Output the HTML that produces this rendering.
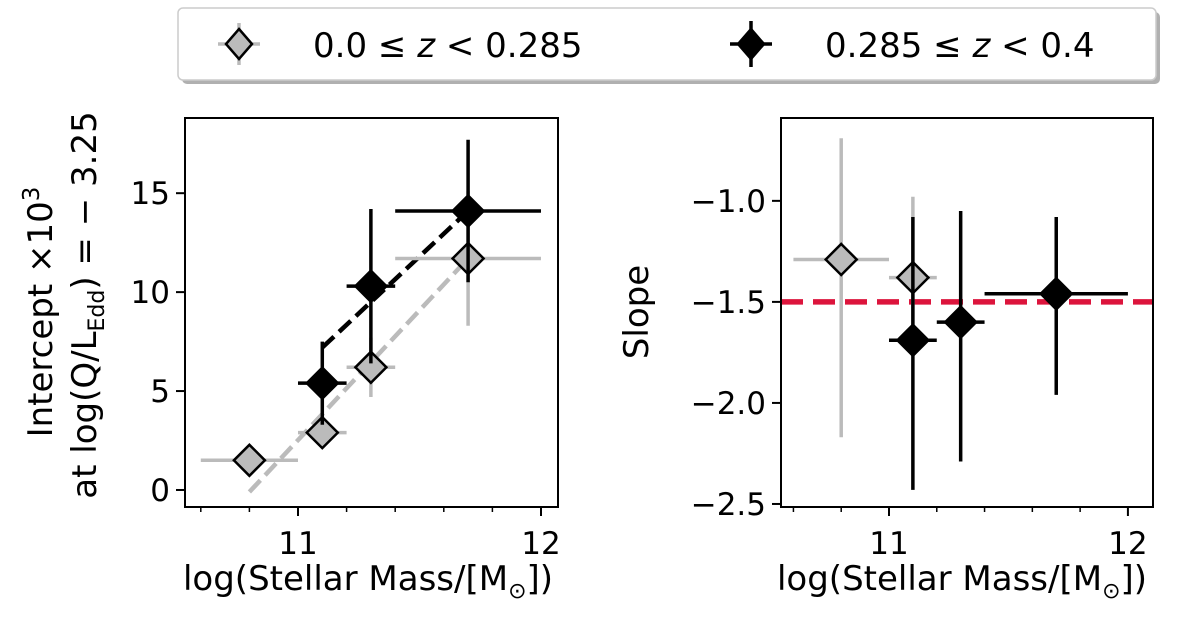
<!DOCTYPE html>
<html><head><meta charset="utf-8">
<style>
html,body{margin:0;padding:0;background:#fff;}
svg{display:block;font-family:"DejaVu Sans","Liberation Sans",sans-serif;}
</style></head>
<body>
<svg id="fig" width="1200" height="627" viewBox="0 0 1200 627" xmlns="http://www.w3.org/2000/svg">
<g>
  <rect x="182" y="12" width="978" height="72" rx="5" fill="#b0b0b0"/>
  <rect x="178" y="8" width="978" height="72" rx="5" fill="#fff" stroke="#ccc" stroke-width="1.5"/>
  <g>
    <line x1="218" y1="44" x2="260" y2="44" stroke="#bbb" stroke-width="3.5"/>
    <line x1="239" y1="23" x2="239" y2="65" stroke="#bbb" stroke-width="3.5"/>
    <path d="M239,29 L252,44 L239,59 L226,44 Z" fill="#bbb" stroke="#000" stroke-width="2.5"/>
    <text x="313" y="57" font-size="34">0.0 ≤ <tspan font-style="italic">z</tspan> &lt; 0.285</text>
  </g>
  <g>
    <line x1="730" y1="44" x2="772" y2="44" stroke="#000" stroke-width="3.5"/>
    <line x1="751" y1="21" x2="751" y2="67" stroke="#000" stroke-width="3.5"/>
    <path d="M751,29 L764,44 L751,59 L738,44 Z" fill="#000" stroke="#000" stroke-width="2.5"/>
    <text x="825" y="57" font-size="34">0.285 ≤ <tspan font-style="italic">z</tspan> &lt; 0.4</text>
  </g>
</g>
<g id="left"></g>
<g id="right"></g>
</svg>
<script>
// ---- data ----
const massLow = [10.8, 11.1, 11.3, 11.7];
const xerrLow = [0.2, 0.1, 0.1, 0.3];
const interceptLow = [1.5, 2.9, 6.2, 11.7];
const interceptErrUpLow = [0.3, 0.6, 1.5, 3.4];
const interceptErrDnLow = [0.3, 0.6, 1.5, 3.4];
const massHigh = [11.1, 11.3, 11.7];
const xerrHigh = [0.1, 0.1, 0.3];
const interceptHigh = [5.4, 10.3, 14.1];
const interceptErrUpHigh = [2.1, 3.9, 3.6];
const interceptErrDnHigh = [2.1, 3.9, 3.6];
const fitLowX = [10.8, 11.7];
const fitLowY = [-0.1, 11.7];
const fitHighX = [11.1, 11.7];
const fitHighY = [7.2, 14.1];

const slopeMassLow = [10.8, 11.1];
const slopeXerrLow = [0.2, 0.1];
const slopeLow = [-1.29, -1.38];
const slopeErrUpLow = [0.60, 0.40];
const slopeErrDnLow = [0.88, 0.30];
const slopeMassHigh = [11.1, 11.3, 11.7];
const slopeXerrHigh = [0.1, 0.1, 0.3];
const slopeHigh = [-1.69, -1.60, -1.46];
const slopeErrUpHigh = [0.61, 0.55, 0.38];
const slopeErrDnHigh = [0.74, 0.69, 0.50];
const slopeRef = -1.5;

const xTicks = [11, 12];
const xMinor = [10.6, 10.8, 11.2, 11.4, 11.6, 11.8];
const leftYTicks = [0, 5, 10, 15];
const rightYTicks = [-1.0, -1.5, -2.0, -2.5];

const NS = "http://www.w3.org/2000/svg";
function mk(parent, tag, attrs) {
  const e = document.createElementNS(NS, tag);
  for (const k in attrs) e.setAttribute(k, attrs[k]);
  parent.appendChild(e);
  return e;
}
function lin(d0, d1, r0, r1) { return v => r0 + (v - d0) * (r1 - r0) / (d1 - d0); }

function panel(g, box, xlim, ylim, yticks, yfmt) {
  const sx = lin(xlim[0], xlim[1], box.x0, box.x1);
  const sy = lin(ylim[0], ylim[1], box.y1, box.y0);
  xTicks.forEach(t => {
    const l = mk(g, "line", {x1: sx(t), x2: sx(t), y1: box.y1, y2: box.y1 + 9, stroke: "#000", "stroke-width": 2});
    
    
    const tx = mk(g, "text", {x: sx(t), y: box.y1 + 47, "font-size": 31, "text-anchor": "middle"});
    tx.textContent = t;
    
    
  });
  xMinor.forEach(t => {
    const l = mk(g, "line", {x1: sx(t), x2: sx(t), y1: box.y1, y2: box.y1 + 5, stroke: "#000", "stroke-width": 1.5});
    
    
  });
  yticks.forEach(t => {
    const l = mk(g, "line", {x1: box.x0 - 9, x2: box.x0, y1: sy(t), y2: sy(t), stroke: "#000", "stroke-width": 2});
    
    
    const tx = mk(g, "text", {x: box.x0 - 15, y: sy(t) + 11, "font-size": 31, "text-anchor": "end"});
    tx.textContent = yfmt(t);
    
    
  });
  return {sx, sy};
}
function errPoints(g, sx, sy, xs, xe, ys, yeUp, yeDn, col, fill, name) {
  xs.forEach((x, i) => {
    const h = mk(g, "line", {x1: sx(x - xe[i]), x2: sx(x + xe[i]), y1: sy(ys[i]), y2: sy(ys[i]), stroke: col, "stroke-width": 3.5});
    
    
    const v = mk(g, "line", {x1: sx(x), x2: sx(x), y1: sy(ys[i] - yeDn[i]), y2: sy(ys[i] + yeUp[i]), stroke: col, "stroke-width": 3.5});
    
    
  });
  xs.forEach((x, i) => {
    const cx = sx(x), cy = sy(ys[i]);
    const p = mk(g, "path", {d: `M${cx},${cy-15.5} L${cx+15.5},${cy} L${cx},${cy+15.5} L${cx-15.5},${cy} Z`, fill: fill, stroke: "#000", "stroke-width": 2.5});
    
    
  });
}
function frame(g, box) {
  const r = mk(g, "rect", {x: box.x0, y: box.y0, width: box.x1 - box.x0, height: box.y1 - box.y0, fill: "none", stroke: "#000", "stroke-width": 2});
  
  
}

// Left panel
(function(){
  const g = document.getElementById("left");
  const box = {x0: 185, x1: 558, y0: 118, y1: 507};
  const {sx, sy} = panel(g, box, [10.535, 12.07], [-0.86, 18.8], leftYTicks, t => t);
  const f1 = mk(g, "line", {x1: sx(fitLowX[0]), y1: sy(fitLowY[0]), x2: sx(fitLowX[1]), y2: sy(fitLowY[1]), stroke: "#bbb", "stroke-width": 4.5, "stroke-dasharray": "16,7"});
  
  
  const f2 = mk(g, "line", {x1: sx(fitHighX[0]), y1: sy(fitHighY[0]), x2: sx(fitHighX[1]), y2: sy(fitHighY[1]), stroke: "#000", "stroke-width": 4.5, "stroke-dasharray": "16,7"});
  
  
  errPoints(g, sx, sy, massLow, xerrLow, interceptLow, interceptErrUpLow, interceptErrDnLow, "#bbb", "#bbb", "intercept-low-z");
  errPoints(g, sx, sy, massHigh, xerrHigh, interceptHigh, interceptErrUpHigh, interceptErrDnHigh, "#000", "#000", "intercept-high-z");
  frame(g, box);
  const xl = mk(g, "text", {x: 368, y: 590, "font-size": 34, "text-anchor": "middle"});
  xl.innerHTML = 'log(Stellar Mass/[M<tspan font-size="22" dy="8">⊙</tspan><tspan dy="-8">])</tspan>';
  
  
  const yl = mk(g, "text", {transform: "translate(52,312) rotate(-90)", "font-size": 34, "text-anchor": "middle"});
  yl.innerHTML = 'Intercept ×10<tspan font-size="23" dy="-13">3</tspan>';
  
  
  const yl2 = mk(g, "text", {transform: "translate(96,305) rotate(-90)", "font-size": 34, "text-anchor": "middle"});
  yl2.innerHTML = 'at log(Q/L<tspan font-size="22" dy="8">Edd</tspan><tspan dy="-8">) = − 3.25</tspan>';
  
  
})();

// Right panel
(function(){
  const g = document.getElementById("right");
  const box = {x0: 781, x1: 1153, y0: 118, y1: 507};
  const {sx, sy} = panel(g, box, [10.548, 12.105], [-2.515, -0.59], rightYTicks, t => "−" + Math.abs(t).toFixed(1));
  const rl = mk(g, "line", {x1: box.x0, x2: box.x1, y1: sy(slopeRef), y2: sy(slopeRef), stroke: "#dc143c", "stroke-width": 5.5, "stroke-dasharray": "22,10"});
  
  
  errPoints(g, sx, sy, slopeMassLow, slopeXerrLow, slopeLow, slopeErrUpLow, slopeErrDnLow, "#bbb", "#bbb", "slope-low-z");
  errPoints(g, sx, sy, slopeMassHigh, slopeXerrHigh, slopeHigh, slopeErrUpHigh, slopeErrDnHigh, "#000", "#000", "slope-high-z");
  frame(g, box);
  const xl = mk(g, "text", {x: 962, y: 590, "font-size": 34, "text-anchor": "middle"});
  xl.innerHTML = 'log(Stellar Mass/[M<tspan font-size="22" dy="8">⊙</tspan><tspan dy="-8">])</tspan>';
  
  
  const yl = mk(g, "text", {transform: "translate(648,312) rotate(-90)", "font-size": 34, "text-anchor": "middle"});
  yl.textContent = 'Slope';
  
  
})();
</script>
</body></html>
